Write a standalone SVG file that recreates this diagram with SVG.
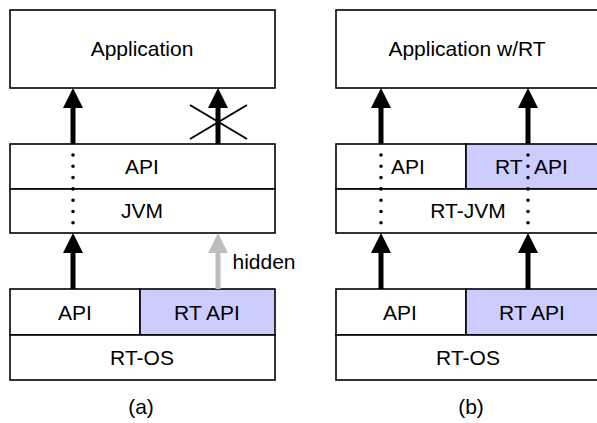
<svg xmlns="http://www.w3.org/2000/svg" width="597" height="423" viewBox="0 0 597 423">
<style>
.box{fill:#ffffff;stroke:#000000;stroke-width:1.6}
.rt{fill:#ccccff;stroke:#000000;stroke-width:1.6}
text{font-family:"Liberation Sans",Arial,sans-serif;font-size:21px;fill:#000000;text-anchor:middle}
.st{text-anchor:start}
.arr{stroke:#000000;stroke-width:5;fill:none;marker-end:url(#ah)}
.garr{stroke:#bdbdbd;stroke-width:5;fill:none;marker-end:url(#gah)}
.dots{stroke:#000000;stroke-width:3.6;stroke-linecap:round;stroke-dasharray:0 11.3;fill:none}
.cross{stroke:#000000;stroke-width:2;fill:none}
</style>
<defs>
<marker id="ah" markerUnits="userSpaceOnUse" markerWidth="20" markerHeight="20" refX="0" refY="10" orient="auto" overflow="visible">
<path d="M0,0 L20,10 L0,20 Z" fill="#000000"/>
</marker>
<marker id="gah" markerUnits="userSpaceOnUse" markerWidth="20" markerHeight="20" refX="0" refY="10" orient="auto" overflow="visible">
<path d="M0,0 L20,10 L0,20 Z" fill="#bdbdbd"/>
</marker>
</defs>
<rect width="597" height="423" fill="#ffffff"/>

<!-- Panel (a) -->
<g id="app-a"><rect class="box" x="10" y="10" width="265" height="78"/><text x="142" y="56">Application</text></g>
<g id="api-a"><rect class="box" x="10" y="144" width="265" height="45"/><text x="142" y="174">API</text></g>
<g id="jvm-a"><rect class="box" x="10" y="189" width="265" height="44"/><text x="142" y="218">JVM</text></g>
<g id="osapi-a"><rect class="box" x="10" y="289" width="130" height="46"/><text x="75" y="320">API</text></g>
<g id="osrtapi-a"><rect class="rt" x="140" y="289" width="135" height="46"/><text x="207" y="320">RT API</text></g>
<g id="rtos-a"><rect class="box" x="10" y="335" width="265" height="45"/><text x="142" y="365">RT-OS</text></g>
<g id="label-a"><text x="141" y="414">(a)</text></g>

<!-- Panel (b) -->
<g id="app-b"><rect class="box" x="336" y="10" width="266" height="78"/><text x="467" y="56">Application w/RT</text></g>
<g id="api-b"><rect class="box" x="336" y="144" width="130" height="45"/><text class="st" x="391" y="174">API</text></g>
<g id="rtapi-b"><rect class="rt" x="466" y="144" width="136" height="45"/><text class="st" x="495" y="174">RT<tspan x="534">API</tspan></text></g>
<g id="rtjvm-b"><rect class="box" x="336" y="189" width="266" height="44"/><text x="468" y="218">RT-JVM</text></g>
<g id="osapi-b"><rect class="box" x="336" y="289" width="130" height="46"/><text x="400" y="320">API</text></g>
<g id="osrtapi-b"><rect class="rt" x="466" y="289" width="136" height="46"/><text x="532" y="320">RT API</text></g>
<g id="rtos-b"><rect class="box" x="336" y="335" width="266" height="45"/><text x="468" y="365">RT-OS</text></g>
<g id="label-b"><text x="471" y="414">(b)</text></g>

<g id="connectors">
<line class="arr" x1="73" y1="144" x2="73" y2="108"/>
<line class="arr" x1="218" y1="144" x2="218" y2="108"/>
<line class="cross" x1="190" y1="105" x2="247" y2="139"/>
<line class="cross" x1="190" y1="139" x2="247" y2="105"/>
<line class="dots" x1="73" y1="155" x2="73" y2="223"/>
<line class="arr" x1="73" y1="289" x2="73" y2="253"/>
<line class="garr" x1="218" y1="289" x2="218" y2="253"/>
<text x="264" y="269">hidden</text>

<line class="arr" x1="381" y1="144" x2="381" y2="108"/>
<line class="arr" x1="528" y1="144" x2="528" y2="108"/>
<line class="dots" x1="381" y1="155" x2="381" y2="223"/>
<line class="dots" x1="528" y1="155" x2="528" y2="223"/>
<line class="arr" x1="381" y1="289" x2="381" y2="253"/>
<line class="arr" x1="528" y1="289" x2="528" y2="253"/>
</g>
</svg>
